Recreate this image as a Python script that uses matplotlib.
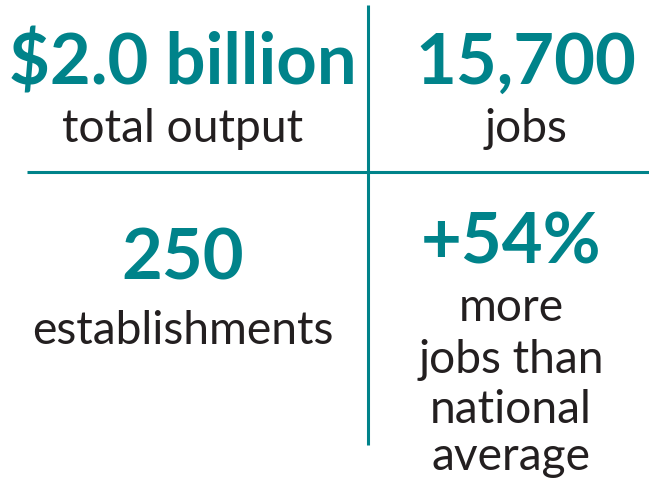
import matplotlib
matplotlib.use("Agg")
import matplotlib.pyplot as plt

# Data
figures = ["$2.0 billion", "15,700", "250", "+54%"]
labels = ["total output", "jobs", "establishments", "more\njobs than\nnational\naverage"]

TEAL = "#00838A"
DARK = "#231F20"

W, H = 649, 491
fig = plt.figure(figsize=(W / 100, H / 100), dpi=100)
ax = fig.add_axes([0, 0, 1, 1])
ax.set_xlim(0, W)
ax.set_ylim(H, 0)
ax.axis("off")

# grid lines
ax.plot([368, 368], [5, 445], color=TEAL, lw=2.2, solid_capstyle="butt")
ax.plot([27, W], [172, 172], color=TEAL, lw=2.2, solid_capstyle="butt")

fig.canvas.draw()
renderer = fig.canvas.get_renderer()

bold = dict(color=TEAL, family="Lato", fontweight="bold")
reg = dict(color=DARK, family="Lato", fontweight="normal")


def size_for(s, width, **kw):
    t = ax.text(0, 0, s, fontsize=30, **kw)
    bb = t.get_window_extent(renderer)
    t.remove()
    return 30 * width / bb.width

big = size_for(figures[0], 348, **bold)
small = size_for(labels[2], 302, **reg)


def put(x, y, s, size, **kw):
    ax.text(x, y, s, ha="center", va="baseline", fontsize=size, **kw)

put(183, 84, figures[0], big, **bold)
put(183, 142, labels[0], small, **reg)
put(526, 84, figures[1], big, **bold)
put(526, 142, labels[1], small, **reg)
put(183, 280, figures[2], big, **bold)
put(183, 344, labels[2], small, **reg)
put(511, 263, figures[3], big, **bold)

lines4 = labels[3].split("\n")
ys = [321, 373, 423, 470]
for s, y in zip(lines4, ys):
    put(511, y, s, small, **reg)

fig.savefig("out.png", dpi=100)
